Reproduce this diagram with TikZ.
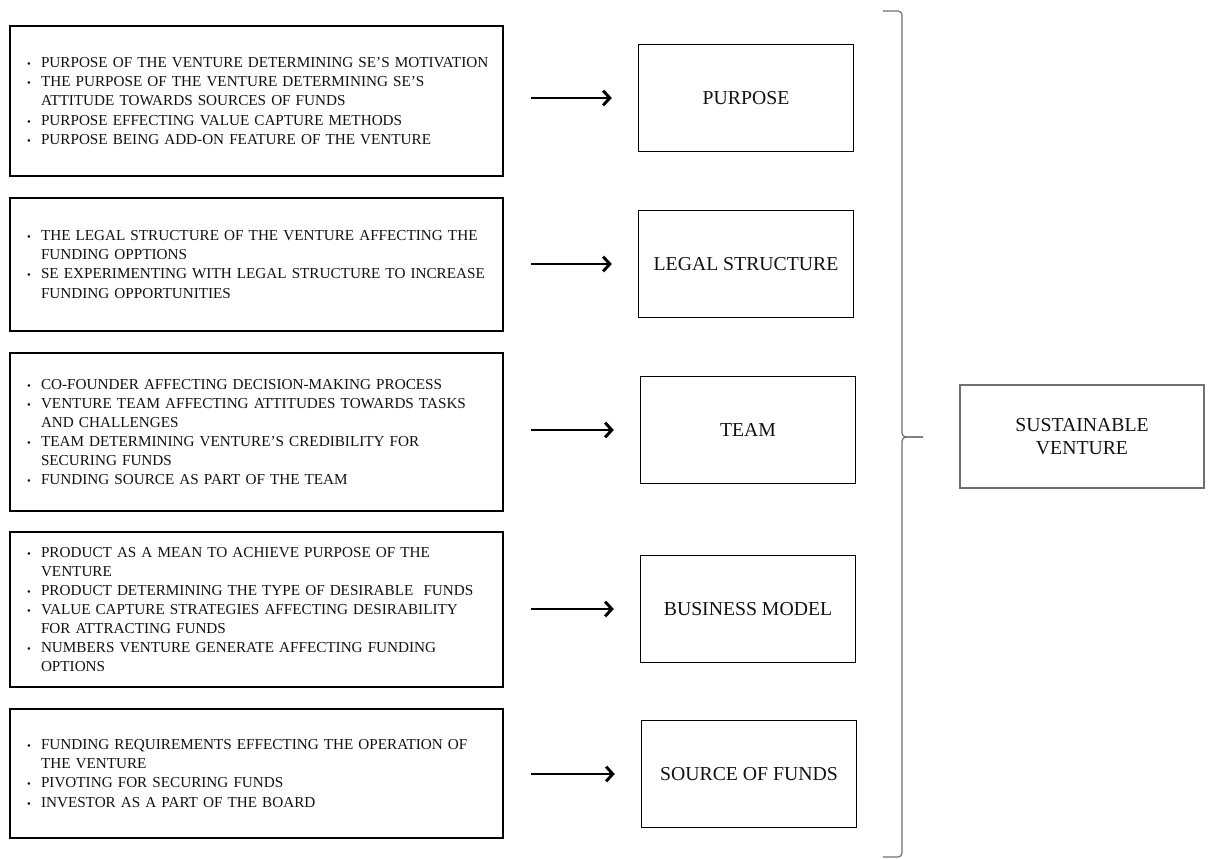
\documentclass[tikz,border=0pt]{standalone}
\usepackage{fontspec}
\setmainfont{Liberation Serif}
\usetikzlibrary{arrows.meta,positioning}
\definecolor{inkgray}{HTML}{111111}
\definecolor{bracegray}{HTML}{707070}
\newcommand{\bul}{\hspace*{5.375pt}\makebox[10.5pt][l]{\fontsize{8}{8}\selectfont\textbullet}}
\newcommand{\cont}{\hspace*{15.875pt}}
\tikzset{
  factors/.style={draw=black,line width=1.3pt,minimum width=369.75pt,inner xsep=7.375pt,text width=355pt,align=left,font=\fontsize{11.4}{14.3}\selectfont,text=inkgray},
  theme/.style={draw=black,line width=1.1pt,minimum width=161.25pt,minimum height=80.25pt,align=center,font=\fontsize{14.8}{17.25}\selectfont,text=inkgray},
  goal/.style={draw=bracegray,line width=0.9pt,minimum width=183pt,minimum height=77.25pt,align=center,font=\fontsize{14.8}{17.25}\selectfont,text=inkgray},
  flow/.style={-{Straight Barb[length=5pt,width=11pt]},draw=black,line width=2.2pt,shorten <=20.25pt,shorten >=19.5pt},
  bracket/.style={draw=bracegray,line width=0.9pt}
}
\begin{document}
\begin{tikzpicture}[x=0.75pt,y=-0.75pt]
\path[use as bounding box] (0,0) rectangle (1210,859);
% left column: factors
\node[factors,minimum height=112.5pt] (f1) at (256.5,101) {\bul PURPOSE OF THE VENTURE DETERMINING SE'S MOTIVATION\\\bul THE PURPOSE OF THE VENTURE DETERMINING SE'S\\\cont ATTITUDE TOWARDS SOURCES OF FUNDS\\\bul PURPOSE EFFECTING VALUE CAPTURE METHODS\\\bul PURPOSE BEING ADD-ON FEATURE OF THE VENTURE};
\node[factors,minimum height=99.75pt] (f2) at (256.5,264.5) {\bul THE LEGAL STRUCTURE OF THE VENTURE AFFECTING THE\\\cont FUNDING OPPTIONS\\\bul SE EXPERIMENTING WITH LEGAL STRUCTURE TO INCREASE\\\cont FUNDING OPPORTUNITIES};
\node[factors,minimum height=118.5pt] (f3) at (256.5,432) {\bul CO-FOUNDER AFFECTING DECISION-MAKING PROCESS\\\bul VENTURE TEAM AFFECTING ATTITUDES TOWARDS TASKS\\\cont AND CHALLENGES\\\bul TEAM DETERMINING VENTURE'S CREDIBILITY FOR\\\cont SECURING FUNDS\\\bul FUNDING SOURCE AS PART OF THE TEAM};
\node[factors,minimum height=116.25pt] (f4) at (256.5,609.5) {\bul PRODUCT AS A MEAN TO ACHIEVE PURPOSE OF THE\\\cont VENTURE\\\bul PRODUCT DETERMINING THE TYPE OF DESIRABLE\ \ FUNDS\\\bul VALUE CAPTURE STRATEGIES AFFECTING DESIRABILITY\\\cont FOR ATTRACTING FUNDS\\\bul NUMBERS VENTURE GENERATE AFFECTING FUNDING\\\cont OPTIONS};
\node[factors,minimum height=96.75pt] (f5) at (256.5,773.5) {\bul FUNDING REQUIREMENTS EFFECTING THE OPERATION OF\\\cont THE VENTURE\\\bul PIVOTING FOR SECURING FUNDS\\\bul INVESTOR AS A PART OF THE BOARD};
% middle column: themes
\node[theme] (t1) at (746,98) {PURPOSE};
\node[theme] (t2) at (746,264) {LEGAL STRUCTURE};
\node[theme] (t3) at (748,430) {TEAM};
\node[theme] (t4) at (748,609) {BUSINESS MODEL};
\node[theme] (t5) at (749,774) {SOURCE OF FUNDS};
\foreach \i in {1,...,5} \draw[flow] (f\i.east |- t\i) -- (t\i);
% bracket and outcome
\coordinate (brtop) at (883,11);
\coordinate (brbot) at (883,857);
\coordinate (brtip) at (923,437);
\draw[bracket,rounded corners=3pt] (brtop) -- (902,11) -- (902,437) -- (brtip);
\draw[bracket,rounded corners=3pt] (brbot) -- (902,857) -- (902,437) -- (brtip);
\node[goal] (sv) at (1082,436.5) {SUSTAINABLE\\VENTURE};
\end{tikzpicture}
\end{document}
